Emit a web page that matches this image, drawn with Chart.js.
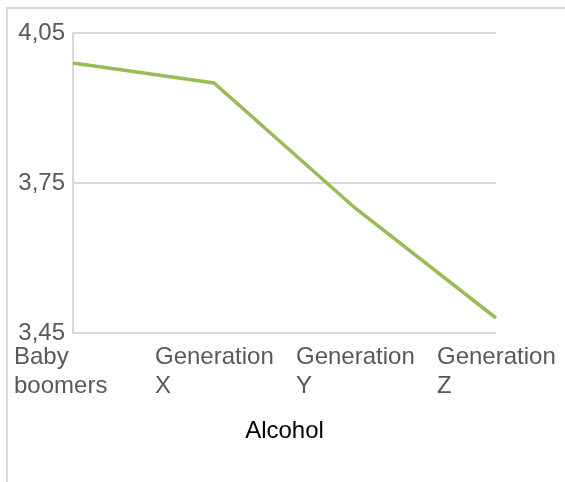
<!DOCTYPE html>
<html>
<head>
<meta charset="utf-8">
<script src="https://cdn.jsdelivr.net/npm/chart.js@4/dist/chart.umd.min.js"></script>
<style>
  html, body { margin: 0; padding: 0; background: #fff; }
  #wrap { position: relative; width: 565px; height: 482px; overflow: hidden; }
  #frame {
    position: absolute; left: 6px; top: 7px; width: 700px; height: 700px;
    border-top: 2px solid #d9d9d9; border-left: 2px solid #d9d9d9;
  }
  #alcoholChart { position: absolute; left: 0; top: 0; }
</style>
</head>
<body>
<div id="wrap">
  <div id="frame"></div>
  <canvas id="alcoholChart" width="565" height="482"></canvas>
</div>
<script>
const generations = [['Baby', 'boomers'], ['Generation', 'X'], ['Generation', 'Y'], ['Generation', 'Z']];
const alcoholScores = [3.99, 3.95, 3.70, 3.48];
const yTickValues = [3.45, 3.75, 4.05];
const axisTitle = 'Alcohol';

const labelGrey = '#595959';
const gridGrey = '#d9d9d9';

const ctx = document.getElementById('alcoholChart').getContext('2d');
new Chart(ctx, {
  type: 'line',
  data: {
    labels: generations,
    datasets: [{
      data: alcoholScores,
      borderColor: '#9bbb59',
      borderWidth: 3.5,
      pointRadius: 0,
      tension: 0,
      fill: false
    }]
  },
  options: {
    responsive: false,
    animation: false,
    layout: { padding: { left: 0, top: 33, right: 69, bottom: 0 } },
    plugins: {
      legend: { display: false },
      tooltip: { enabled: false }
    },
    scales: {
      x: {
        offset: false,
        grid: { display: false, drawTicks: false },
        border: { display: false },
        ticks: {
          color: labelGrey,
          font: { family: 'Liberation Sans, Arial, sans-serif', size: 24 },
          align: 'start',
          labelOffset: -59,
          padding: 10,
          maxRotation: 0,
          autoSkip: false
        },
        title: {
          display: true,
          text: axisTitle,
          color: '#000',
          font: { family: 'Liberation Sans, Arial, sans-serif', size: 24 },
          padding: { top: 0, bottom: 36 }
        },
        afterFit(scale) {
          scale.height = 149;
          scale.paddingLeft = 0;
          scale.paddingRight = 0;
        }
      },
      y: {
        min: 3.45,
        max: 4.05,
        grid: { color: gridGrey, lineWidth: 2, drawTicks: false },
        border: { display: true, color: gridGrey, width: 2 },
        afterBuildTicks(scale) {
          scale.ticks = yTickValues.map(v => ({ value: v }));
        },
        ticks: {
          color: labelGrey,
          font: { family: 'Liberation Sans, Arial, sans-serif', size: 24 },
          padding: 8,
          callback: v => v.toFixed(2).replace('.', ',')
        },
        afterFit(scale) {
          scale.width = 73;
          scale.paddingTop = 0;
          scale.paddingBottom = 0;
        }
      }
    }
  }
});
</script>
</body>
</html>
